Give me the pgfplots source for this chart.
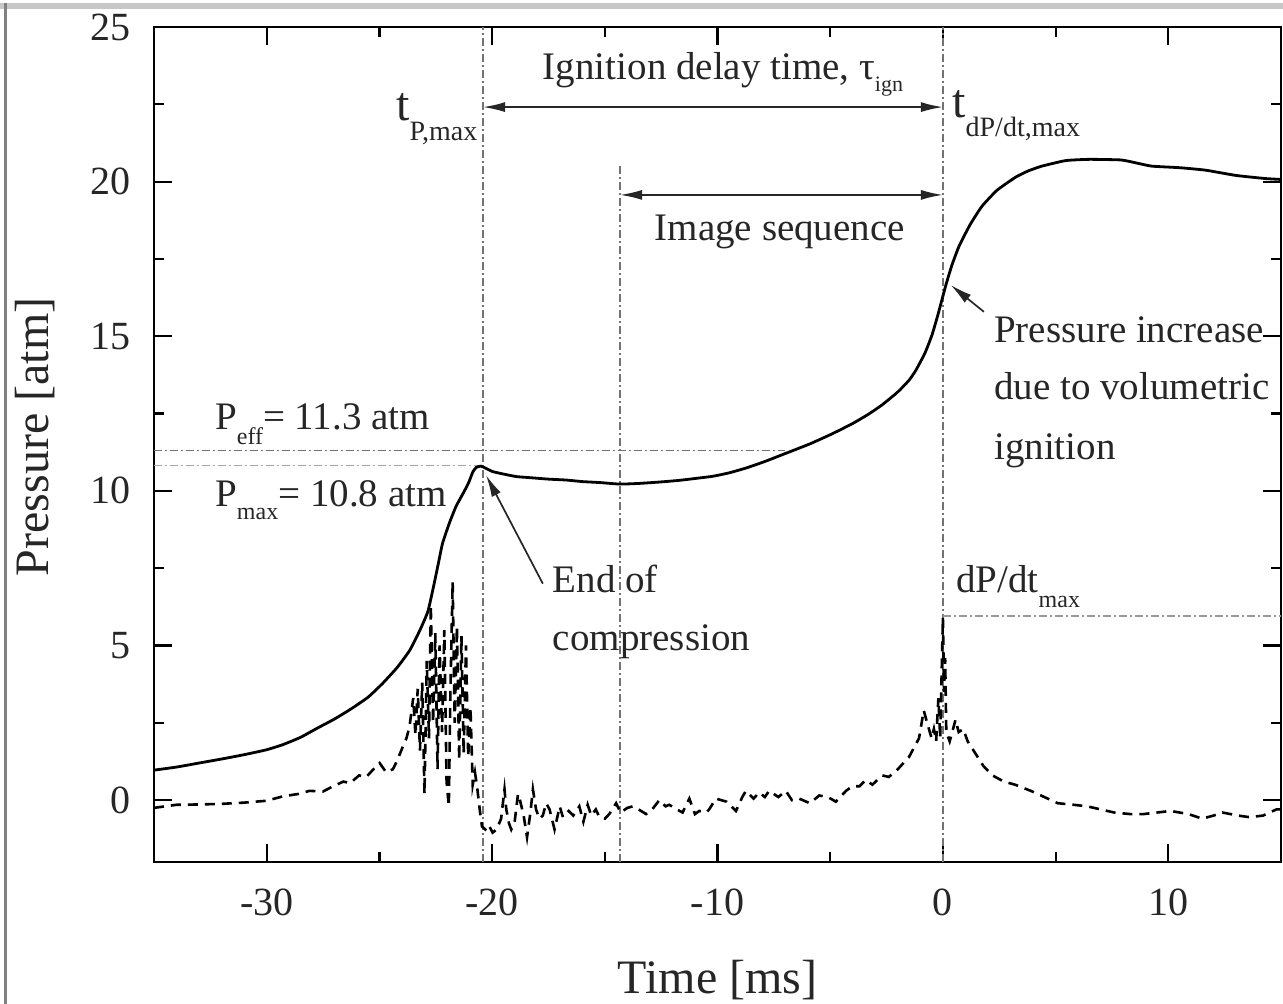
\documentclass[border=0pt]{standalone}
\usepackage{pgfplots}
\pgfplotsset{compat=1.18}
\usepackage{fontspec}
\setmainfont{Liberation Serif}
\usetikzlibrary{arrows.meta}

\newcommand{\sub}[2][-7.5pt]{\raisebox{#1}{\fontsize{12}{12}\selectfont #2}}
\newcommand{\annfont}{\fontsize{19.5}{23}\selectfont}

\pgfplotstableread{
x y
-35 0.97
-34 1.07
-33 1.2
-32 1.33
-31 1.47
-30 1.63
-29.3 1.79
-28.5 2.03
-27.8 2.31
-27 2.62
-26.3 2.93
-25.5 3.33
-24.85 3.78
-24.2 4.3
-23.65 4.85
-23.2 5.5
-22.85 6.1
-22.6 6.9
-22.4 7.6
-22.2 8.3
-21.9 8.95
-21.6 9.5
-21.3 9.9
-21.05 10.25
-20.85 10.62
-20.7 10.76
-20.5 10.8
-20.3 10.74
-20.0 10.63
-19.6 10.56
-19.2 10.5
-18.9 10.46
-18.2 10.42
-17.5 10.38
-16.7 10.35
-16.0 10.3
-15.24 10.27
-14.35 10.22
-13.5 10.24
-12.5 10.29
-11.7 10.34
-11.0 10.4
-10.23 10.47
-9.5 10.58
-8.73 10.74
-7.9 10.95
-6.95 11.22
-5.9 11.52
-4.9 11.85
-4.0 12.18
-3.3 12.48
-2.7 12.78
-2.0 13.2
-1.5 13.58
-1.2 13.9
-0.8 14.45
-0.48 15.05
-0.2 15.75
0.13 16.65
0.4 17.3
0.71 17.9
1.2 18.6
1.73 19.2
2.4 19.72
3.24 20.15
3.8 20.35
4.39 20.5
5.45 20.68
6.5 20.72
7.9 20.7
8.6 20.6
9.27 20.5
10.5 20.45
11.65 20.37
13.0 20.2
14.3 20.1
15.0 20.07
}\pressure

\pgfplotstableread{
x y
-35.0 -0.25
-34.5 -0.2
-34.0 -0.15
-33.0 -0.14
-32.0 -0.12
-31.0 -0.08
-30.0 -0.02
-29.3 0.12
-28.6 0.2
-28.1 0.3
-27.5 0.28
-27.05 0.45
-26.6 0.6
-26.3 0.55
-25.9 0.8
-25.58 0.75
-25.2 1.05
-24.99 1.2
-24.7 0.9
-24.4 1.0
-24.2 1.3
-23.95 1.75
-23.8 2.0
-23.66 2.4
-23.5 3.3
-23.4 2.1
-23.3 3.6
-23.2 1.6
-23.1 3.8
-23.0 0.2
-22.9 4.5
-22.8 2.0
-22.72 6.3
-22.62 2.5
-22.52 5.4
-22.42 1.0
-22.33 5.0
-22.22 2.2
-22.12 5.5
-22.02 0.6
-21.92 -0.2
-21.85 3.5
-21.75 7.05
-21.66 2.5
-21.56 5.6
-21.46 1.3
-21.36 5.3
-21.26 1.5
-21.16 5.0
-21.06 1.4
-20.96 3.0
-20.86 0.5
-20.76 0.9
-20.66 0.4
-20.55 -0.3
-20.45 -0.85
-20.3 -0.95
-20.15 -0.8
-19.98 -1.05
-19.8 -0.95
-19.6 -0.6
-19.45 0.35
-19.37 -0.3
-19.25 -0.75
-19.15 -0.95
-19.0 -0.7
-18.85 0.2
-18.78 0.05
-18.6 -0.5
-18.45 -1.2
-18.3 -0.4
-18.19 0.35
-18.05 -0.3
-17.9 -0.6
-17.75 -0.5
-17.6 -0.1
-17.45 -0.3
-17.23 -0.95
-17.0 -0.2
-16.86 -0.55
-16.6 -0.35
-16.4 -0.5
-16.13 -0.2
-15.95 -0.7
-15.76 -0.15
-15.6 -0.5
-15.4 -0.3
-15.24 -0.55
-15.0 -0.6
-14.8 -0.45
-14.5 -0.1
-14.3 -0.4
-14.0 -0.25
-13.76 -0.2
-13.5 -0.3
-13.17 -0.45
-12.9 -0.3
-12.58 0.0
-12.3 -0.2
-12.14 -0.15
-11.8 -0.3
-11.55 -0.4
-11.25 0.05
-11.0 -0.45
-10.81 -0.35
-10.5 -0.4
-10.37 -0.3
-10.07 0.05
-9.6 -0.05
-9.18 -0.35
-8.9 0.1
-8.74 0.3
-8.4 0.05
-8.15 0.25
-7.9 0.1
-7.71 0.3
-7.3 0.1
-6.97 0.3
-6.7 0.0
-6.38 0.05
-5.9 -0.1
-5.49 0.15
-5.1 0.1
-4.75 -0.05
-4.3 0.3
-4.02 0.45
-3.7 0.45
-3.42 0.65
-3.13 0.5
-2.69 0.8
-2.4 0.75
-2.0 1.0
-1.5 1.4
-1.06 2.0
-0.85 2.9
-0.7 2.5
-0.5 2.0
-0.4 2.3
-0.3 1.9
-0.2 3.3
-0.12 2.0
-0.05 4.3
0.0 5.9
0.05 3.5
0.1 4.6
0.15 2.2
0.3 1.9
0.45 2.3
0.56 2.6
0.7 2.2
0.9 2.3
1.1 1.9
1.45 1.5
1.8 1.1
2.2 0.8
2.7 0.6
3.2 0.5
3.9 0.3
4.5 0.1
5.1 -0.1
5.8 -0.15
6.4 -0.2
7.0 -0.3
7.6 -0.4
8.3 -0.45
8.9 -0.45
9.5 -0.4
10.1 -0.35
10.5 -0.4
10.9 -0.45
11.5 -0.6
12.0 -0.5
12.4 -0.4
13.1 -0.5
13.6 -0.55
14.2 -0.5
14.8 -0.3
15.0 -0.3
}\dpdt

\begin{document}
\begin{tikzpicture}
\useasboundingbox (-77pt,-71pt) rectangle (564.5pt,431pt);
\begin{axis}[
  scale only axis, width=563.5pt, height=417.5pt,
  at={(0pt,0pt)}, anchor=south west,
  xmin=-35, xmax=15, ymin=-2, ymax=25,
  xtick={-30,-20,...,10}, minor xtick={-25,-15,-5,5},
  ytick={0,5,...,25}, minor ytick={2.5,7.5,12.5,17.5,22.5},
  tick pos=both, tick align=inside,
  major tick length=9pt, minor tick length=5pt,
  every tick/.style={line width=1.1pt, black},
  axis line style={line width=1.4pt},
  ticklabel style={font=\fontsize{20}{24}\selectfont, text=black!85},
  /pgf/number format/assume math mode=true,
  xticklabel style={yshift=-10pt},
  yticklabel style={xshift=-8pt},
  xlabel={Time [ms]}, ylabel={Pressure [atm]},
  label style={font=\fontsize{24}{28}\selectfont, text=black!85},
  xlabel style={at={(axis description cs:0.5,-0.1415)}, anchor=center},
  ylabel style={at={(axis description cs:-0.1056,0.509)}, anchor=center},
  clip=false,
  refl/.style={black!55, line width=0.7pt, dash pattern=on 4pt off 1.5pt on 1pt off 1.5pt},
]
% reference lines
\addplot[refl] coordinates {(-20.4,-2) (-20.4,25)};
\addplot[refl] coordinates {(-14.32,-2) (-14.32,20.6)};
\addplot[refl] coordinates {(0,-2) (0,25)};
\addplot[refl] coordinates {(-35,11.3) (-7.0,11.3)};
\addplot[refl, black!35] coordinates {(-35,10.83) (-20.4,10.83)};
\addplot[refl, black!40] coordinates {(0,5.95) (15,5.95)};

% data
\addplot[black, line width=1.4pt, smooth, tension=0.3] table[x=x,y=y] {\pressure};
\addplot[black, line width=1.3pt, dash pattern=on 5pt off 3.5pt] table[x=x,y=y] {\dpdt};

% arrows
\draw[black!85, line width=0.85pt, {Latex[length=11pt,width=5pt]}-{Latex[length=11pt,width=5pt]}]
  (axis cs:-20.4,22.41) -- (axis cs:0,22.41);
\draw[black!85, line width=0.85pt, {Latex[length=11pt,width=5pt]}-{Latex[length=11pt,width=5pt]}]
  (axis cs:-14.32,19.57) -- (axis cs:0,19.57);
\draw[black!85, line width=0.85pt, -{Latex[length=11pt,width=5pt]}]
  (axis cs:-17.75,7.0) -- (axis cs:-20.27,10.51);
\draw[black!85, line width=0.85pt, -{Latex[length=11pt,width=5pt]}]
  (axis cs:1.82,15.79) -- (axis cs:0.34,16.66);

% labels
\node[anchor=base west, inner sep=0pt, text=black!85, font=\annfont] at (axis cs:-17.76,23.29)
  {Ignition delay time, τ\raisebox{-6pt}{\fontsize{11}{11}\selectfont ign}};
\node[anchor=base east, inner sep=0pt, text=black!85, font=\fontsize{24}{28}\selectfont] at (axis cs:-20.64,21.99)
  {t\raisebox{-10pt}{\fontsize{14}{14}\selectfont P,max}};
\node[anchor=base west, inner sep=0pt, text=black!85, font=\fontsize{24}{28}\selectfont] at (axis cs:0.4,22.06)
  {t\raisebox{-9.5pt}{\fontsize{14}{14}\selectfont dP/dt,max}};
\node[anchor=base west, inner sep=0pt, text=black!85, font=\annfont] at (axis cs:-12.8,18.08) {Image sequence};
\node[anchor=base west, inner sep=0pt, text=black!85, font=\annfont] at (axis cs:2.26,14.81) {Pressure increase};
\node[anchor=base west, inner sep=0pt, text=black!85, font=\annfont] at (axis cs:2.26,12.94) {due to volumetric};
\node[anchor=base west, inner sep=0pt, text=black!85, font=\annfont] at (axis cs:2.26,11.0) {ignition};
\node[anchor=base west, inner sep=0pt, text=black!85, font=\annfont] at (axis cs:-32.3,11.97) {P\sub{eff}= 11.3 atm};
\node[anchor=base west, inner sep=0pt, text=black!85, font=\annfont] at (axis cs:-32.3,9.48) {P\sub[-6.5pt]{max}= 10.8 atm};
\node[anchor=base west, inner sep=0pt, text=black!85, font=\annfont] at (axis cs:-17.32,6.73) {End of};
\node[anchor=base west, inner sep=0pt, text=black!85, font=\annfont] at (axis cs:-17.32,4.85) {compression};
\node[anchor=base west, inner sep=0pt, text=black!85, font=\annfont] at (axis cs:0.58,6.73) {dP/dt\sub{max}};
\end{axis}
% image frame
\draw[line width=3pt, black!22] (-77pt,428pt) -- (564.5pt,428pt);
\draw[line width=1.6pt, black!50] (-74.25pt,-71pt) -- (-74.25pt,429.5pt);
\end{tikzpicture}
\end{document}
